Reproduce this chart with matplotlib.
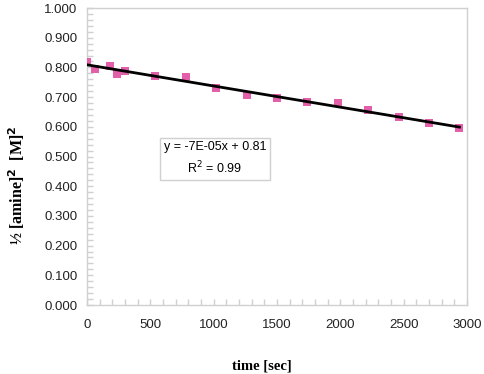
import numpy as np
import matplotlib
matplotlib.use("Agg")
import matplotlib.pyplot as plt
from matplotlib.ticker import MultipleLocator, FormatStrFormatter

time_sec = [0, 60, 180, 240, 300, 540, 780, 1020, 1260, 1500, 1740, 1980, 2220, 2460, 2700, 2940]
half_amine_sq = [0.819, 0.794, 0.806, 0.778, 0.787, 0.771, 0.767, 0.730, 0.707, 0.698,
                 0.685, 0.679, 0.657, 0.632, 0.612, 0.597]
eq_text = "y = -7E-05x + 0.81\nR$^2$ = 0.99"

fig = plt.figure(figsize=(4.84, 3.74), dpi=100)
ax = fig.add_axes([87/484, 1 - 305/374, 380/484, 297/374])

gray = "#d0d0d0"
for s in ax.spines.values():
    s.set_color(gray)
    s.set_linewidth(1.0)

ax.scatter(time_sec, half_amine_sq, marker="s", s=40, color="#e35fa9", zorder=3, linewidths=0)
coef = np.polyfit(time_sec, half_amine_sq, 1)
xs = np.array([time_sec[0], time_sec[-1]])
ax.plot(xs, np.polyval(coef, xs), color="black", lw=2, zorder=4)

ax.set_xlim(0, 3000)
ax.set_ylim(0, 1.0)
ax.xaxis.set_major_locator(MultipleLocator(500))
ax.xaxis.set_minor_locator(MultipleLocator(100))
ax.yaxis.set_major_locator(MultipleLocator(0.1))
ax.yaxis.set_minor_locator(MultipleLocator(0.02))
ax.yaxis.set_major_formatter(FormatStrFormatter("%.3f"))
ax.tick_params(which="both", direction="in", color=gray, length=4, width=1,
               labelsize=9.5, labelcolor="#222222", top=False, right=False)
ax.tick_params(axis="x", which="major", pad=10)
ax.tick_params(axis="y", which="major", pad=7)
for lab in ax.get_xticklabels() + ax.get_yticklabels():
    lab.set_fontfamily("Liberation Sans")

ax.text((215 - 87) / 380, (305 - 159) / 297, eq_text, transform=ax.transAxes,
        ha="center", va="center", fontsize=9, family="Liberation Sans", linespacing=1.5,
        bbox=dict(boxstyle="square,pad=0.3", fc="white", ec=gray, lw=1))

fig.text(262/484, 1 - 366/374, "time [sec]", ha="center", va="center",
         fontsize=10.5, fontweight="bold", family="Liberation Serif")
fig.text(17/484, 1 - 185/374, "½ [amine]$^\\mathbf{2}$  [M]$^\\mathbf{2}$", ha="center", va="center",
         rotation=90, fontsize=11.5, fontweight="bold", family="Liberation Serif")

fig.savefig("out.png", dpi=100)
